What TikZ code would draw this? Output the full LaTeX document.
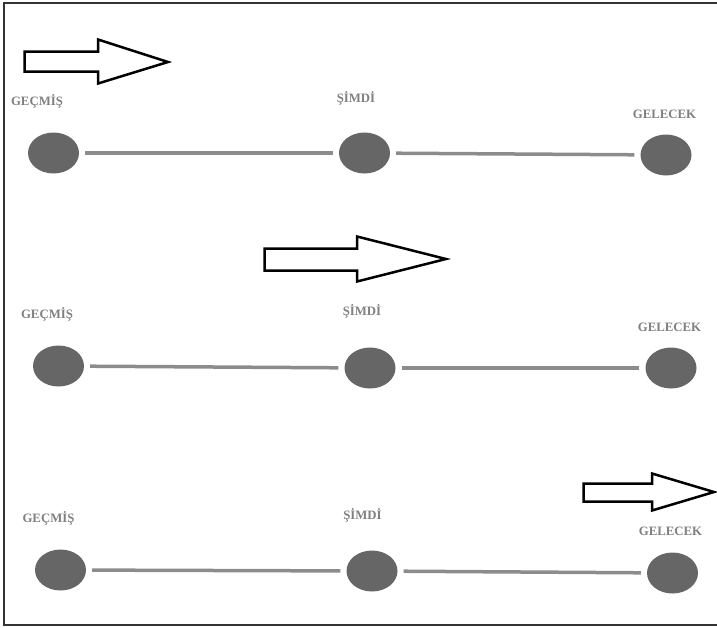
\documentclass[tikz,border=0pt]{standalone}
\usepackage{fontspec}
\setmainfont{Liberation Serif}
\usepackage{xcolor}
\usetikzlibrary{shapes.geometric}

\definecolor{dotgray}{HTML}{666666}
\definecolor{linegray}{HTML}{8C8C8C}
\definecolor{labelgray}{HTML}{808080}

\tikzset{
    dot/.style={ellipse, fill=dotgray, minimum width=51pt, minimum height=41pt, inner sep=0pt},
    tlabel/.style={anchor=base, text=labelgray, inner sep=0pt, font=\bfseries\fontsize{12.8}{14}\selectfont},
    tline/.style={draw=linegray, line width=3.5pt, shorten <=6pt, shorten >=6pt},
    bigarrow/.style={draw=black, line width=2.5pt, fill=white}
}

\begin{document}
\begin{tikzpicture}[x=1pt,y=-1pt]
                \useasboundingbox (0,0) rectangle (717,627);
                \draw[line width=1.2pt, draw=black!80] (4,3) rectangle (721,625);
                
                % time points
                \foreach \r/\xa/\ya/\xb/\yb/\xc/\yc in {1/53.5/153/364.5/153/666/155, 2/58.5/366/370/368/671/368, 3/60.5/570/372/571/672.5/573} {
                    \node[dot] (gecmis\r) at (\xa,\ya) {};
                    \node[dot] (simdi\r) at (\xb,\yb) {};
                    \node[dot] (gelecek\r) at (\xc,\yc) {};
                    \draw[tline] (gecmis\r) -- (simdi\r);
                    \draw[tline] (simdi\r) -- (gelecek\r);
                }
                
                \foreach \r/\xa/\ya/\xb/\yb/\xc/\yc in {1/37/105/356/102/664.5/118, 2/47/318/362/315/669.5/331, 3/48.5/522/362.5/519/670.5/535} {
                    \node[tlabel] (lgecmis\r) at (\xa,\ya) {GEÇMİŞ};
                    \node[tlabel] (lsimdi\r) at (\xb,\yb) {ŞİMDİ};
                    \node[tlabel] (lgelecek\r) at (\xc,\yc) {GELECEK};
                }
                
                % draw moving arrows
                \foreach \xa/\xb/\xc/\ya/\yb/\yc/\yd/\ym in {24.5/98/168/39.5/51.5/71.5/83.5/62, 264.5/357/446/236.5/248.5/270.5/281.5/259, 583.5/652/714/473.5/483.5/501.5/510.5/492} {
                    \draw[bigarrow] (\xa,\yb) -- (\xb,\yb) -- (\xb,\ya) -- (\xc,\ym) -- (\xb,\yd) -- (\xb,\yc) -- (\xa,\yc) -- cycle;
                }
\end{tikzpicture}
\end{document}
